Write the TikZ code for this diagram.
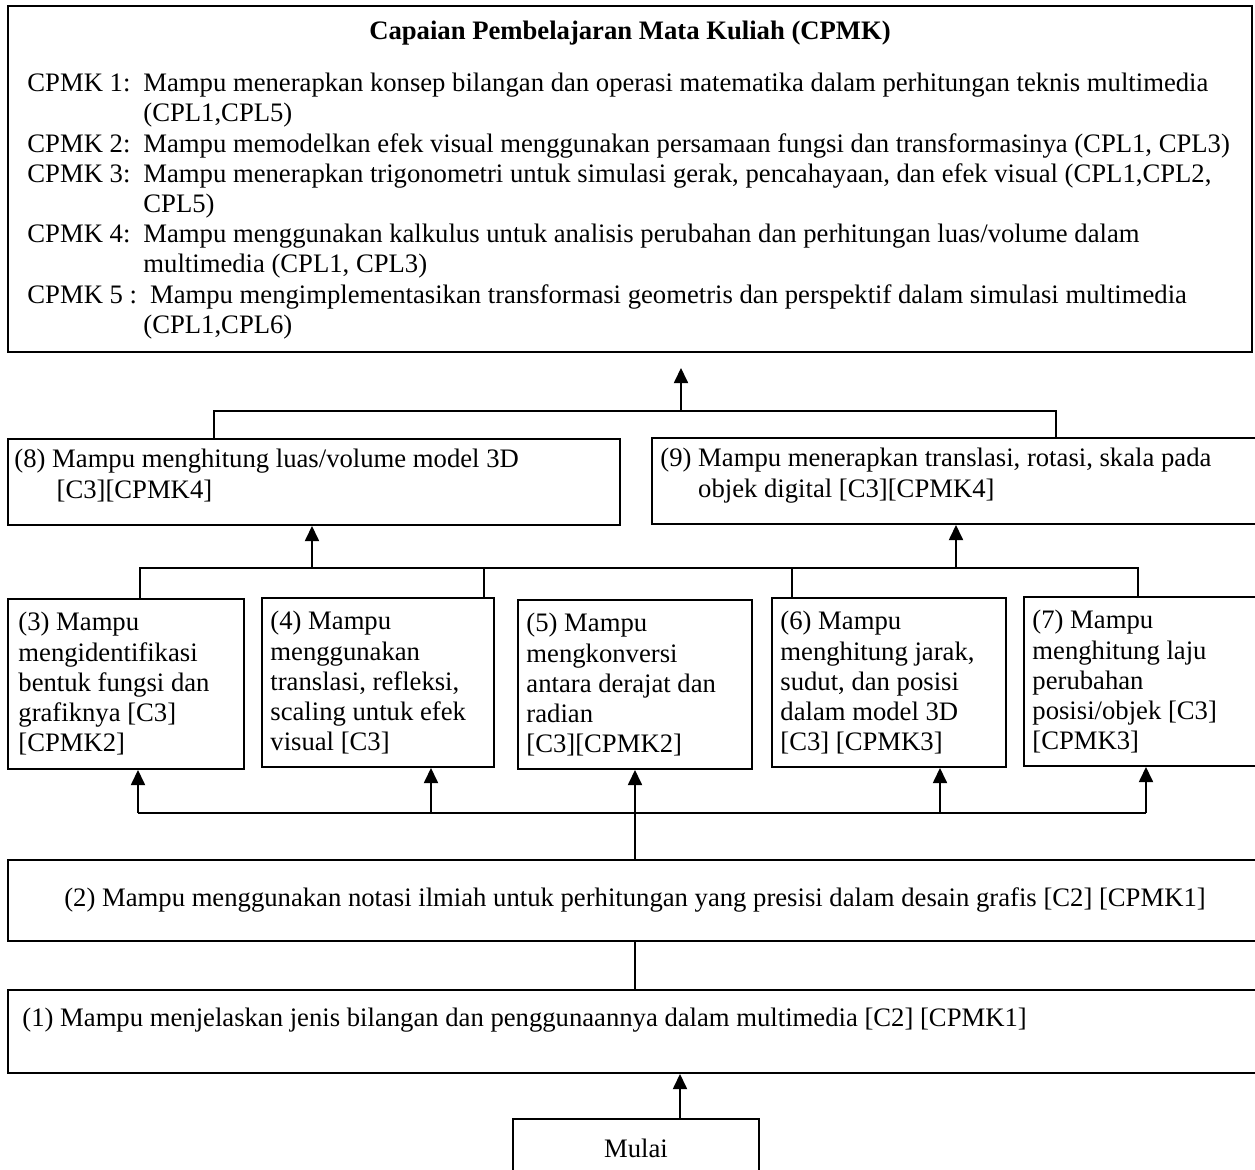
\documentclass[tikz,border=0pt]{standalone}
\usepackage{fontspec}
\setmainfont{Liberation Serif}
\usetikzlibrary{arrows.meta,positioning,calc}
\def\pxu{0.45pt}
\tikzset{
  boxframe/.style 2 args={draw, line width=0.9pt, minimum width=#1*\pxu,
                          minimum height=#2*\pxu, inner sep=0pt},
  txt/.style={inner sep=0pt, align=left, font=\fontsize{12}{13.6}\selectfont},
  link/.style={line width=0.6pt},
  arr/.style={-{Triangle[length=6.8pt, width=6.4pt]}, line width=0.6pt}}

\begin{document}
\begin{tikzpicture}[x=0.45pt, y=-0.45pt]
  \useasboundingbox (0,0) rectangle (1255,1170);
  \clip (0,0) rectangle (1255,1170);
  % frames
  \node[boxframe={1244}{346}] (cpmk) at (630,179) {};
  \node[boxframe={612}{86}] (b8) at (314,482) {};
  \node[boxframe={620}{86}] (b9) at (962,481) {};
  \node[boxframe={236}{170}] (b3) at (126,684) {};
  \node[boxframe={232}{169}] (b4) at (378,682.5) {};
  \node[boxframe={234}{169}] (b5) at (635,684.5) {};
  \node[boxframe={234}{169}] (b6) at (889,682.5) {};
  \node[boxframe={246}{169}] (b7) at (1147,681.5) {};
  \node[boxframe={1254}{81}, txt] (b2) at (635,900)
    {(2) Mampu menggunakan notasi ilmiah untuk perhitungan yang presisi dalam desain grafis [C2] [CPMK1]};
  \node[boxframe={1254}{83}] (b1) at (635,1031.5) {};
  \node[boxframe={246}{90}] (mulai) at (636,1164) {};
  % texts
  \node[txt, anchor=north, font=\fontsize{12}{13.6}\selectfont\bfseries] (cpmkhd) at (630,21)
    {Capaian Pembelajaran Mata Kuliah (CPMK)};
  \node[txt, anchor=north west] (cpmklist) at (27,70) {%
    \begin{tabular}[t]{@{}p{116\dimexpr\pxu\relax}@{}p{1120\dimexpr\pxu\relax}@{}}
    CPMK 1: & Mampu menerapkan konsep bilangan dan operasi matematika dalam perhitungan teknis multimedia\newline (CPL1,CPL5)\\
    CPMK 2: & Mampu memodelkan efek visual menggunakan persamaan fungsi dan transformasinya (CPL1, CPL3)\\
    CPMK 3: & Mampu menerapkan trigonometri untuk simulasi gerak, pencahayaan, dan efek visual (CPL1,CPL2,\newline CPL5)\\
    CPMK 4: & Mampu menggunakan kalkulus untuk analisis perubahan dan perhitungan luas/volume dalam\newline multimedia (CPL1, CPL3)\\
    CPMK 5 : & \hspace*{3pt}Mampu mengimplementasikan transformasi geometris dan perspektif dalam simulasi multimedia\newline (CPL1,CPL6)
    \end{tabular}};
  \node[txt, anchor=north west] (t8) at (14,449)
    {(8) Mampu menghitung luas/volume model 3D\\\hspace*{19pt}[C3][CPMK4]};
  \node[txt, anchor=north west] (t9) at (660,448)
    {(9) Mampu menerapkan translasi, rotasi, skala pada\\\hspace*{17pt}objek digital [C3][CPMK4]};
  \node[txt, anchor=north west] (t3) at (18,612)
    {(3) Mampu\\mengidentifikasi\\bentuk fungsi dan\\grafiknya [C3]\\{}[CPMK2]};
  \node[txt, anchor=north west] (t4) at (270,611)
    {(4) Mampu\\menggunakan\\translasi, refleksi,\\scaling untuk efek\\visual [C3]};
  \node[txt, anchor=north west] (t5) at (526,613)
    {(5) Mampu\\mengkonversi\\antara derajat dan\\radian\\{}[C3][CPMK2]};
  \node[txt, anchor=north west] (t6) at (780,611)
    {(6) Mampu\\menghitung jarak,\\sudut, dan posisi\\dalam model 3D\\{}[C3] [CPMK3]};
  \node[txt, anchor=north west] (t7) at (1032,610)
    {(7) Mampu\\menghitung laju\\perubahan\\posisi/objek [C3]\\{}[CPMK3]};
  \node[txt, anchor=north west] (t1) at (22,1008)
    {(1) Mampu menjelaskan jenis bilangan dan penggunaannya dalam multimedia [C2] [CPMK1]};
  \node[txt] (mulait) at (636,1148) {Mulai};
  % connectors up to CPMK
  \coordinate (cup) at (681,411);
  \coordinate (ctip) at (681,368);
  \draw[link] (b8.north -| 214,0) |- (cup) -| (b9.north -| 1056,0);
  \draw[arr] (cup) -- (ctip);
  % connectors up to (8) and (9)
  \coordinate (m8) at (312,568);
  \coordinate (m9) at (956,568);
  \draw[link] (b3.north -| 140,0) |- (m8) -- (m9) -| (b7.north -| 1138,0);
  \draw[link] (b4.north -| 484,0) -- (484,568);
  \draw[link] (b6.north -| 792,0) -- (792,568);
  \draw[arr] (m8) -- (b8.south -| m8);
  \draw[arr] (m9) -- (b9.south -| m9);
  % connectors from (2)
  \foreach \i/\x in {3/138, 4/431, 6/940, 7/1146}
    \coordinate (q\i) at (\x,813);
  \draw[link] (q3) -- (q7);
  \foreach \i in {3,4,6,7}
    \draw[arr] (q\i) -- (b\i.south -| q\i);
  \draw[arr] (b2.north -| b5.south) -- (b5.south);
  \draw[link] (b2.south) -- (b1.north);
  \coordinate (mx) at (680,0);
  \draw[arr] (mulai.north -| mx) -- (b1.south -| mx);
\end{tikzpicture}
\end{document}
